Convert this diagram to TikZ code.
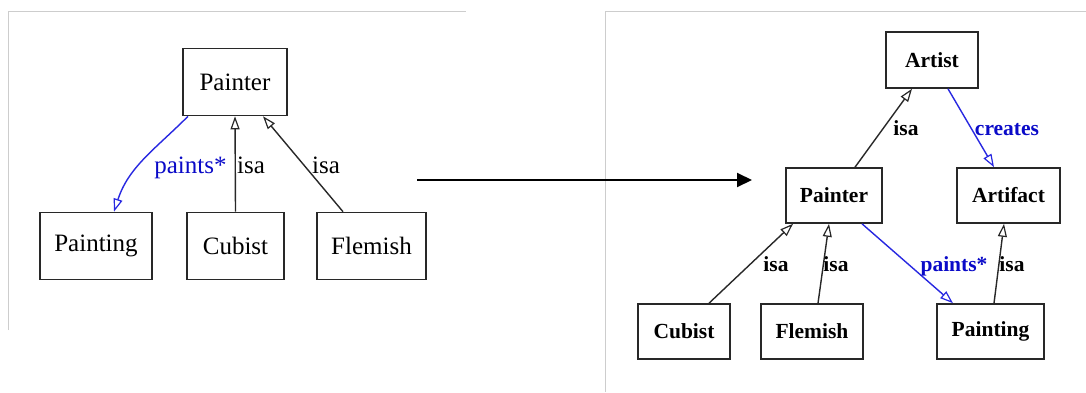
\documentclass[tikz,border=0pt]{standalone}
\usepackage{fontspec}
\setmainfont{Liberation Serif}
\usetikzlibrary{arrows.meta}
\definecolor{frame}{RGB}{205,205,205}
\definecolor{boxline}{RGB}{40,40,40}
\definecolor{reledge}{RGB}{40,40,225}
\definecolor{rellabel}{RGB}{10,10,200}
\tikzset{
  lbox/.style={draw=boxline, line width=1.6pt, inner sep=0pt, font=\rmfamily\mdseries\fontsize{25}{28}\selectfont},
  rbox/.style={draw=boxline, line width=1.6pt, inner sep=0pt, font=\rmfamily\bfseries\fontsize{21.5}{24}\selectfont},
  isaedge/.style={draw=boxline, line width=1.4pt, -{Triangle[open, length=13pt, width=9pt, line width=1.2pt]}},
  reledgestyle/.style={draw=reledge, line width=1.4pt, -{Triangle[open, length=13pt, width=9pt, line width=1.2pt]}},
  llab/.style={anchor=base, inner sep=0pt, font=\rmfamily\mdseries\fontsize{25}{28}\selectfont},
  rlab/.style={anchor=base, inner sep=0pt, font=\rmfamily\bfseries\fontsize{21.5}{24}\selectfont},
  panelframe/.style={draw=frame, line width=1pt},
  bigarrow/.style={line width=2pt, -{Triangle[length=15pt, width=14pt]}}
}
\begin{document}
\begin{tikzpicture}[x=1pt, y=1pt]
\useasboundingbox (0,0) rectangle (1086,392);
\fill[white] (0,0) rectangle (1086,392);
% panel frames
\draw[panelframe] (8,62) -- (8,380) -- (466,380);
\draw[panelframe] (605,0) -- (605,380) -- (1086,380);
% left diagram
\node[lbox, minimum width=104pt, minimum height=67pt] (lpainter) at (235,310) {Painter};
\node[lbox, minimum width=112pt, minimum height=67pt] (lpainting) at (96,146) {Painting};
\node[lbox, minimum width=97pt, minimum height=67pt] (lcubist) at (235.5,146) {Cubist};
\node[lbox, minimum width=109pt, minimum height=67pt] (lflemish) at (371.5,146) {Flemish};
\draw[reledgestyle] ([xshift=-47pt]lpainter.south) to[out=-135, in=72] ([xshift=18pt]lpainting.north);
\draw[isaedge] (lcubist.north) -- (lpainter.south);
\draw[isaedge] ([xshift=-28.5pt]lflemish.north) -- ([xshift=28pt]lpainter.south);
\node[llab, text=rellabel] (lpaintslab) at (190.5,219) {paints*};
\node[llab] (lisa1) at (251,219) {isa};
\node[llab] (lisa2) at (326,219) {isa};
% transformation arrow
\coordinate (arrstart) at (417,212);
\coordinate (arrend) at (752,212);
\draw[bigarrow] (arrstart) -- (arrend);
% right diagram
\node[rbox, minimum width=92pt, minimum height=56pt] (artist) at (932,332) {Artist};
\node[rbox, minimum width=96pt, minimum height=55pt] (rpainter) at (834,196.5) {Painter};
\node[rbox, minimum width=103pt, minimum height=55pt] (artifact) at (1008.5,196.5) {Artifact};
\node[rbox, minimum width=92pt, minimum height=55pt] (rcubist) at (684,60.5) {Cubist};
\node[rbox, minimum width=102pt, minimum height=55pt] (rflemish) at (812,60.5) {Flemish};
\node[rbox, minimum width=107pt, minimum height=55pt] (rpainting) at (990.5,60.5) {Painting};
\draw[isaedge] ([xshift=21pt]rpainter.north) -- ([xshift=-20pt]artist.south);
\draw[reledgestyle] ([xshift=16pt]artist.south) -- ([xshift=-14.5pt]artifact.north);
\draw[isaedge] ([xshift=25pt]rcubist.north) -- ([xshift=-41pt]rpainter.south);
\draw[isaedge] ([xshift=6pt]rflemish.north) -- ([xshift=-5pt]rpainter.south);
\draw[reledgestyle] ([xshift=28pt]rpainter.south) -- ([xshift=-37.5pt]rpainting.north);
\draw[isaedge] ([xshift=3.5pt]rpainting.north) -- ([xshift=-4.5pt]artifact.south);
\node[rlab] (risa1) at (906,257) {isa};
\node[rlab, text=rellabel] (rcreates) at (1007,257) {creates};
\node[rlab] (risa2) at (776,121) {isa};
\node[rlab] (risa3) at (836,121) {isa};
\node[rlab, text=rellabel] (rpaintslab) at (954,121) {paints*};
\node[rlab] (risa4) at (1012,121) {isa};
\end{tikzpicture}
\end{document}
